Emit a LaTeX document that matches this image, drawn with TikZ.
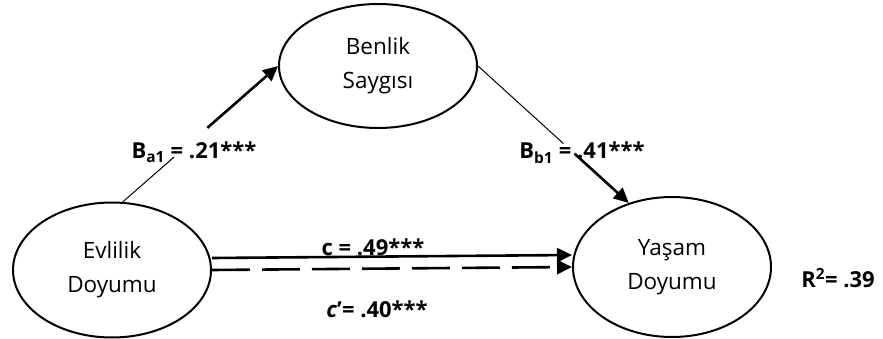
\documentclass[tikz,border=0pt]{standalone}
\usepackage{fontspec}
\setmainfont{Open Sans}
\usetikzlibrary{shapes.geometric,arrows.meta,calc}
\begin{document}
\begin{tikzpicture}[x=1pt,y=-1pt,
  var/.style={draw=black,line width=2pt,ellipse,inner sep=0pt,align=center,
    font=\fontsize{22.5}{34}\selectfont},
  thin/.style={line width=1pt},
  thick/.style={line width=2.6pt,-{Triangle[length=15pt,width=14pt]}},
  lab/.style={anchor=base,inner sep=0pt,font=\fontsize{22}{26}\selectfont\bfseries}]
\useasboundingbox (0,0) rectangle (883,339);
\node[var,minimum width=198pt,minimum height=135pt] (L) at (112,270) {Evlilik\\Doyumu};
\node[var,minimum width=198pt,minimum height=124pt] (T) at (378,66) {Benlik\\Saygısı};
\node[var,minimum width=198pt,minimum height=140pt] (R) at (672,267) {Yaşam\\Doyumu};
% a path
\path (L.81) -- (T.west) coordinate[pos=0.33] (a1) coordinate[pos=0.545] (a2);
\draw[thin] (L.81) -- (a1);
\draw[thick] (a2) -- (T.west);
% b path
\path (T.east) -- (R.124) coordinate[pos=0.567] (b1) coordinate[pos=0.64] (b2);
\draw[thin] (T.east) -- (b1);
\draw[thick] (b2) -- (R.124);
% c paths
\draw[thick] ([yshift=12pt]L.east) -- ([yshift=12pt]R.west);
\draw[thick,dash pattern=on 38pt off 12pt] (L.east) -- (R.west);
% labels
\node[lab] (la) at (194,159) {B\textsubscript{a1} = .21***};
\node[lab] (lb) at (582,159) {B\textsubscript{b1} = .41***};
\node[lab] (lc) at (373,255) {c = .49***};
\node[lab] (lcp) at (377,317) {\textit{c}\char"27= .40***};
\node[lab] (lr) at (838,287) {R\textsuperscript{2}= .39};
\end{tikzpicture}
\end{document}
